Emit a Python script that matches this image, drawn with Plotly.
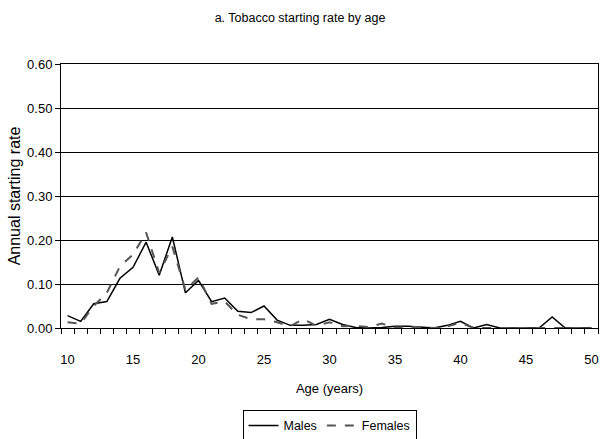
import plotly.graph_objects as go

ages = list(range(10, 51))
males = [0.028, 0.015, 0.055, 0.060, 0.113, 0.138, 0.195, 0.120, 0.207, 0.080,
         0.108, 0.060, 0.068, 0.038, 0.035, 0.050, 0.018, 0.006, 0.006, 0.008,
         0.020, 0.008, 0.001, 0.000, 0.001, 0.004, 0.004, 0.002, 0.000, 0.006,
         0.015, 0.000, 0.008, 0.000, 0.000, 0.000, 0.000, 0.025, 0.000, 0.000,
         0.000]
females = [0.013, 0.010, 0.050, 0.080, 0.140, 0.167, 0.217, 0.125, 0.185, 0.087,
           0.115, 0.055, 0.060, 0.030, 0.020, 0.020, 0.013, 0.004, 0.020, 0.005,
           0.013, 0.004, 0.005, 0.002, 0.010, 0.001, 0.002, 0.002, 0.000, 0.004,
           0.012, 0.000, 0.000, 0.000, 0.000, 0.000, 0.000, 0.000, 0.000, 0.000,
           0.000]
x_ticks = [10, 15, 20, 25, 30, 35, 40, 45, 50]
y_ticks = [0.0, 0.1, 0.2, 0.3, 0.4, 0.5, 0.6]

narrow = "Liberation Sans Narrow, Arial Narrow, Liberation Sans, sans-serif"

fig = go.Figure()
fig.add_trace(go.Scatter(x=ages, y=males, mode="lines", name="Males",
                         line=dict(color="black", width=1.5)))
fig.add_trace(go.Scatter(x=ages, y=females, mode="lines", name="Females",
                         line=dict(color="#555555", width=2, dash="dash")))

fig.update_layout(
    width=600, height=439,
    margin=dict(l=61, r=2, t=64, b=111, autoexpand=False),
    paper_bgcolor="white", plot_bgcolor="white",
    title=dict(text="a. Tobacco starting rate by age", x=0.5, xanchor="center",
               y=1 - 18 / 439, yanchor="middle",
               font=dict(family=narrow, size=12.5, color="black")),
    showlegend=True,
    legend=dict(orientation="h", x=0.5, xanchor="center", y=-0.31, yanchor="top",
                bordercolor="black", borderwidth=1,
                font=dict(family=narrow, size=12.5, color="black"),
                itemwidth=30, tracegroupgap=0),
    font=dict(family=narrow, color="black"),
)

fig.update_xaxes(
    range=[9.5, 50.5], automargin=False,
    tickvals=x_ticks, ticktext=[str(v) for v in x_ticks],
    ticks="", showgrid=False, zeroline=False,
    showline=True, linecolor="black", linewidth=1, mirror=True,
    ticklabelstandoff=19, ticklabeloverflow="allow",
    tickfont=dict(family=narrow, size=13, color="black"),
    minor=dict(ticks="outside", tick0=9.5, dtick=1, ticklen=5, tickcolor="black",
               tickwidth=1, showgrid=False),
    title=dict(text="Age (years)", standoff=18,
               font=dict(family=narrow, size=13, color="black")),
)

fig.update_yaxes(
    range=[0, 0.6], automargin=False,
    tickvals=y_ticks, tickformat=".2f",
    ticks="outside", ticklen=5, tickcolor="black",
    showgrid=True, gridcolor="black", gridwidth=1,
    zeroline=False,
    showline=True, linecolor="black", linewidth=1, mirror=True,
    tickfont=dict(family=narrow, size=13, color="black"),
    title=dict(text="Annual starting rate", standoff=2,
               font=dict(family="Liberation Sans, Arial, sans-serif", size=16, color="black")),
)

fig.write_html("out.html", config={"displayModeBar": False},
               post_script="document.body.style.margin='0';document.body.style.overflow='hidden';")
